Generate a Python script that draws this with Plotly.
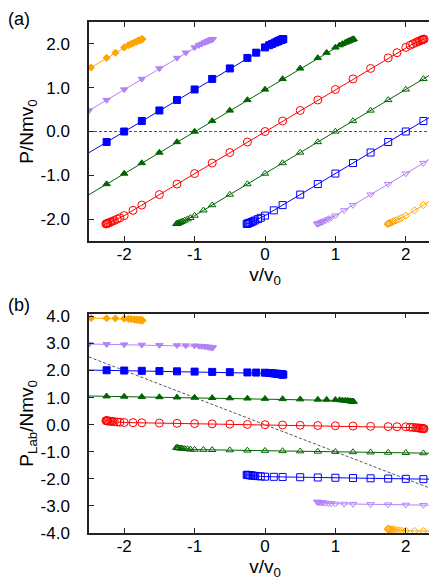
import plotly.graph_objects as go

# data: v/v0, P/Nmv0 (panel a) and P_Lab/Nmv0 (panel b)
v_red = [-2.26, -2.25, -2.24, -2.23, -2.21, -2.19, -2.17, -2.14, -2.1, -2.06, -2.0, -1.875, -1.75, -1.5, -1.25, -1.0, -0.75, -0.5, -0.25, 0.0,
         0.25, 0.5, 0.75, 1.0, 1.25, 1.5, 1.75, 1.875, 2.0, 2.06, 2.1, 2.14, 2.17, 2.19, 2.21, 2.23, 2.24, 2.25, 2.26]
p_red = [-2.11, -2.105, -2.1, -2.09, -2.08, -2.065, -2.05, -2.03, -2.0, -1.97, -1.92, -1.8, -1.68, -1.44, -1.2, -0.96, -0.72, -0.48, -0.24, 0.0,
         0.24, 0.48, 0.72, 0.96, 1.2, 1.44, 1.68, 1.8, 1.92, 1.97, 2.0, 2.03, 2.05, 2.065, 2.08, 2.09, 2.1, 2.105, 2.11]
plab_red = [0.15, 0.145, 0.14, 0.14, 0.13, 0.125, 0.12, 0.11, 0.1, 0.09, 0.08, 0.075, 0.07, 0.06, 0.05, 0.04, 0.03, 0.02, 0.01, 0.0,
            -0.01, -0.02, -0.03, -0.04, -0.05, -0.06, -0.07, -0.075, -0.08, -0.09, -0.1, -0.11, -0.12, -0.125, -0.13, -0.14, -0.14, -0.145, -0.15]

v_green_f = [-2.75, -2.25, -2.0, -1.75, -1.5, -1.25, -1.0, -0.75, -0.5, -0.25, 0.0, 0.25, 0.5, 0.75, 0.875, 1.0,
             1.06, 1.1, 1.14, 1.17, 1.19, 1.21, 1.23, 1.24, 1.25, 1.26]
p_green_f = [-1.68, -1.2, -0.96, -0.72, -0.48, -0.24, 0.0, 0.24, 0.48, 0.72, 0.96, 1.2, 1.44, 1.68, 1.8, 1.92,
             1.97, 2.0, 2.03, 2.05, 2.065, 2.08, 2.09, 2.1, 2.105, 2.11]
plab_green_f = [1.07, 1.05, 1.04, 1.03, 1.02, 1.01, 1.0, 0.99, 0.98, 0.97, 0.96, 0.95, 0.94, 0.93, 0.925, 0.92,
                0.91, 0.9, 0.89, 0.88, 0.875, 0.87, 0.86, 0.86, 0.855, 0.85]

v_green_o = [-1.26, -1.25, -1.24, -1.23, -1.21, -1.19, -1.17, -1.14, -1.1, -1.06, -1.0, -0.875, -0.75, -0.5, -0.25,
             0.0, 0.25, 0.5, 0.75, 1.0, 1.25, 1.5, 1.75, 2.0, 2.25, 2.75]
p_green_o = [-2.11, -2.105, -2.1, -2.09, -2.08, -2.065, -2.05, -2.03, -2.0, -1.97, -1.92, -1.8, -1.68, -1.44, -1.2,
             -0.96, -0.72, -0.48, -0.24, 0.0, 0.24, 0.48, 0.72, 0.96, 1.2, 1.68]
plab_green_o = [-0.85, -0.855, -0.86, -0.86, -0.87, -0.875, -0.88, -0.89, -0.9, -0.91, -0.92, -0.925, -0.93, -0.94, -0.95,
                -0.96, -0.97, -0.98, -0.99, -1.0, -1.01, -1.02, -1.03, -1.04, -1.05, -1.07]

v_blue_f = [-2.75, -2.25, -2.0, -1.75, -1.5, -1.25, -1.0, -0.75, -0.5, -0.25, -0.125, 0.0,
            0.06, 0.1, 0.14, 0.17, 0.19, 0.21, 0.23, 0.24, 0.25, 0.26]
p_blue_f = [-0.72, -0.24, 0.0, 0.24, 0.48, 0.72, 0.96, 1.2, 1.44, 1.68, 1.8, 1.92,
            1.97, 2.0, 2.03, 2.05, 2.065, 2.08, 2.09, 2.1, 2.105, 2.11]
plab_blue_f = [2.03, 2.01, 2.0, 1.99, 1.98, 1.97, 1.96, 1.95, 1.94, 1.93, 1.925, 1.92,
               1.91, 1.9, 1.89, 1.88, 1.875, 1.87, 1.86, 1.86, 1.855, 1.85]

v_blue_o = [-0.26, -0.25, -0.24, -0.23, -0.21, -0.19, -0.17, -0.14, -0.1, -0.06, 0.0, 0.125,
            0.25, 0.5, 0.75, 1.0, 1.25, 1.5, 1.75, 2.0, 2.25, 2.75]
p_blue_o = [-2.11, -2.105, -2.1, -2.09, -2.08, -2.065, -2.05, -2.03, -2.0, -1.97, -1.92, -1.8,
            -1.68, -1.44, -1.2, -0.96, -0.72, -0.48, -0.24, 0.0, 0.24, 0.72]
plab_blue_o = [-1.85, -1.855, -1.86, -1.86, -1.87, -1.875, -1.88, -1.89, -1.9, -1.91, -1.92, -1.925,
               -1.93, -1.94, -1.95, -1.96, -1.97, -1.98, -1.99, -2.0, -2.01, -2.03]

v_purple_f = [-2.5, -2.25, -2.0, -1.75, -1.5, -1.25, -1.125, -1.0, -0.94, -0.9, -0.86, -0.83, -0.81, -0.79, -0.77, -0.76, -0.75, -0.74]
p_purple_f = [0.48, 0.72, 0.96, 1.2, 1.44, 1.68, 1.8, 1.92, 1.97, 2.0, 2.03, 2.05, 2.065, 2.08, 2.09, 2.1, 2.105, 2.11]
plab_purple_f = [2.98, 2.97, 2.96, 2.95, 2.94, 2.93, 2.925, 2.92, 2.91, 2.9, 2.89, 2.88, 2.875, 2.87, 2.86, 2.86, 2.855, 2.85]

v_purple_o = [0.74, 0.75, 0.76, 0.77, 0.79, 0.81, 0.83, 0.86, 0.9, 0.94, 1.0, 1.125, 1.25, 1.5, 1.75, 2.0, 2.25, 2.48]
p_purple_o = [-2.11, -2.105, -2.1, -2.09, -2.08, -2.065, -2.05, -2.03, -2.0, -1.97, -1.92, -1.8, -1.68, -1.44, -1.2, -0.96, -0.72, -0.48]
plab_purple_o = [-2.85, -2.855, -2.86, -2.86, -2.87, -2.875, -2.88, -2.89, -2.9, -2.91, -2.92, -2.925, -2.93, -2.94, -2.95, -2.96, -2.97, -2.98]

v_orange_f = [-2.47, -2.25, -2.125, -2.0, -1.94, -1.9, -1.86, -1.83, -1.81, -1.79, -1.77, -1.76, -1.75, -1.74]
p_orange_f = [1.46, 1.68, 1.8, 1.92, 1.97, 2.0, 2.03, 2.05, 2.065, 2.08, 2.09, 2.1, 2.105, 2.11]
plab_orange_f = [3.94, 3.93, 3.925, 3.92, 3.91, 3.9, 3.89, 3.88, 3.875, 3.87, 3.86, 3.86, 3.855, 3.85]

v_orange_o = [1.74, 1.75, 1.76, 1.77, 1.79, 1.81, 1.83, 1.86, 1.9, 1.94, 2.0, 2.125, 2.25, 2.47]
p_orange_o = [-2.11, -2.105, -2.1, -2.09, -2.08, -2.065, -2.05, -2.03, -2.0, -1.97, -1.92, -1.8, -1.68, -1.46]
plab_orange_o = [-3.85, -3.855, -3.86, -3.86, -3.87, -3.875, -3.88, -3.89, -3.9, -3.91, -3.92, -3.925, -3.93, -3.94]

# reference dashed lines
dash_v = [-2.5, 2.5]
dash_p = [0.0, 0.0]
dash_plab = [2.5, -2.5]

# ticks
x_ticks = [-2, -1, 0, 1, 2]
x_ticktext = ['-2', '-1', '0', '1', '2']
ya_ticks = [-2, -1, 0, 1, 2]
ya_ticktext = ['-2.0', '-1.0', '0.0', '1.0', '2.0']
yb_ticks = [-4, -3, -2, -1, 0, 1, 2, 3, 4]
yb_ticktext = ['-4.0', '-3.0', '-2.0', '-1.0', '0.0', '1.0', '2.0', '3.0', '4.0']

RED = '#ff0000'
GREEN = '#006400'
BLUE = '#0000ff'
PURPLE = '#b383f5'
ORANGE = '#ffa500'

series = [
    (v_orange_f, p_orange_f, plab_orange_f, ORANGE, 'diamond', 5.5),
    (v_orange_o, p_orange_o, plab_orange_o, ORANGE, 'diamond-open', 5.5),
    (v_purple_f, p_purple_f, plab_purple_f, PURPLE, 'triangle-down', 6.5),
    (v_purple_o, p_purple_o, plab_purple_o, PURPLE, 'triangle-down-open', 6.5),
    (v_blue_f, p_blue_f, plab_blue_f, BLUE, 'square', 7),
    (v_blue_o, p_blue_o, plab_blue_o, BLUE, 'square-open', 7),
    (v_green_f, p_green_f, plab_green_f, GREEN, 'triangle-up', 6.5),
    (v_green_o, p_green_o, plab_green_o, GREEN, 'triangle-up-open', 6.5),
    (v_red, p_red, plab_red, RED, 'circle-open', 8),
]

FONT = 'Liberation Sans'

fig = go.Figure()

fig.add_trace(go.Scatter(x=dash_v, y=dash_p, mode='lines', xaxis='x', yaxis='y',
                         line=dict(color='#555555', width=1, dash='3px,2px')))
fig.add_trace(go.Scatter(x=dash_v, y=dash_plab, mode='lines', xaxis='x2', yaxis='y2',
                         line=dict(color='#555555', width=1, dash='3px,2px')))

for v, p, plab, color, symbol, size in series:
    marker = dict(symbol=symbol, size=size, color=color, line=dict(color=color, width=1))
    fig.add_trace(go.Scatter(x=v, y=p, mode='lines+markers', xaxis='x', yaxis='y',
                             line=dict(color=color, width=1), marker=marker))
    fig.add_trace(go.Scatter(x=v, y=plab, mode='lines+markers', xaxis='x2', yaxis='y2',
                             line=dict(color=color, width=1), marker=marker))

axis_common = dict(
    showline=True, linecolor='#222222', linewidth=1.5, mirror='ticks',
    ticks='inside', ticklen=5, tickwidth=1, tickcolor='#222222',
    showgrid=False, zeroline=False, automargin=False,
    tickfont=dict(family=FONT, size=17, color='black'),
)

fig.update_layout(
    width=437, height=587,
    margin=dict(l=81, r=4, t=14, b=62),
    plot_bgcolor='white', paper_bgcolor='white',
    showlegend=False,
    font=dict(family=FONT, color='black'),
    xaxis=dict(domain=[0, 1], anchor='y', range=[-2.5, 2.5],
               tickvals=x_ticks, ticktext=x_ticktext, ticklabelstandoff=-3,
               title=dict(text='v/v<sub>0</sub>', font=dict(size=19), standoff=3),
               **axis_common),
    yaxis=dict(domain=[0.5714, 1], anchor='x', range=[-2.5, 2.5],
               tickvals=ya_ticks, ticktext=ya_ticktext, ticklabelstandoff=14,
               title=dict(text='P/Nmv<sub>0</sub>', font=dict(size=19), standoff=2),
               **axis_common),
    xaxis2=dict(domain=[0, 1], anchor='y2', range=[-2.5, 2.5],
                tickvals=x_ticks, ticktext=x_ticktext, ticklabelstandoff=-3,
                title=dict(text='v/v<sub>0</sub>', font=dict(size=19), standoff=3),
                **axis_common),
    yaxis2=dict(domain=[0, 0.4292], anchor='x2', range=[-4, 4.1],
                tickvals=yb_ticks, ticktext=yb_ticktext, ticklabelstandoff=14,
                title=dict(text='P<sub>Lab</sub>/Nmv<sub>0</sub>', font=dict(size=19), standoff=2),
                **axis_common),
    annotations=[
        dict(text='(a)', xref='paper', yref='paper', x=-0.2, y=1.006,
             xanchor='center', yanchor='middle', showarrow=False, font=dict(size=18)),
        dict(text='(b)', xref='paper', yref='paper', x=-0.2, y=0.446,
             xanchor='center', yanchor='middle', showarrow=False, font=dict(size=18)),
    ],
)

fig.write_html('out.html')
